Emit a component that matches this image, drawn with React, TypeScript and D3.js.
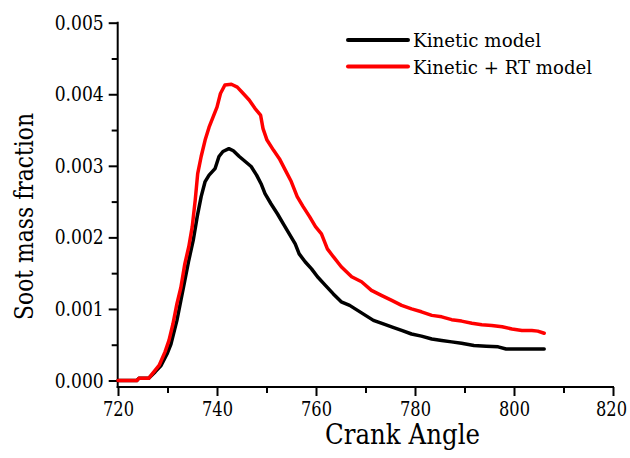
import React, { useRef, useEffect } from "react";
import * as d3 from "d3";

// Kinetic model (black)
const kineticAngle = [
  720, 723.8, 724.2, 726.2, 727.5, 728.7, 729.9, 730.7, 731.9, 732.7, 733.5,
  734.3, 735.2, 736, 736.8, 737.6, 738.4, 739.6, 740.4, 741.2, 742.4, 743.3,
  744.5, 745.7, 746.9, 748, 748.9, 749.7, 750.9, 752.2, 753.4, 754.6, 755.8,
  756.6, 757.8, 759.1, 760.3, 761.9, 763.5, 765.1, 766.8, 768.4, 770, 771.6,
  773.6, 775.7, 777.3, 779.3, 781.3, 783.4, 785.4, 787.4, 789.4, 791.9,
  794.4, 796.8, 798.4, 801.6, 806.1,
];
const kineticSoot = [
  0, 0, 0.00003, 0.00003, 0.00012, 0.00021, 0.00037, 0.00051, 0.00084,
  0.00112, 0.0014, 0.00168, 0.00196, 0.00229, 0.00257, 0.00278, 0.00287,
  0.00296, 0.00313, 0.0032, 0.00324, 0.00321, 0.00313, 0.00306, 0.00299,
  0.00287, 0.00275, 0.00261, 0.00247, 0.00233, 0.00219, 0.00205, 0.00191,
  0.00177, 0.00166, 0.00156, 0.00145, 0.00133, 0.00121, 0.0011, 0.00105,
  0.00098, 0.00091, 0.00084, 0.00079, 0.00074, 0.0007, 0.00065, 0.00062,
  0.00058, 0.00056, 0.00054, 0.00052, 0.00049, 0.00048, 0.00047, 0.00044,
  0.00044, 0.00044,
];

// Kinetic + RT model (red)
const rtAngle = [
  720, 723.8, 724.2, 726.2, 727, 728.3, 729.5, 730.3, 731.1, 731.9, 732.7,
  733.5, 734.3, 735, 735.6, 736.1, 736.8, 737.6, 738.4, 739.2, 740, 740.7,
  741.6, 742.9, 744.1, 745.3, 746.5, 747.7, 748.8, 749.3, 750.1, 751.4,
  752.6, 753.8, 755, 756.2, 757.4, 758.7, 759.9, 761.1, 762.3, 763.5, 765.1,
  767.2, 769.2, 771.2, 773.2, 775.3, 777.3, 779.3, 781.3, 783.4, 785.4,
  787.4, 789.4, 791.5, 793.5, 795.5, 797.6, 799.6, 801.6, 803.6, 804.8,
  806.1,
];
const rtSoot = [
  0, 0, 0.00003, 0.00003, 0.0001, 0.00021, 0.0004, 0.00056, 0.00079, 0.00107,
  0.0013, 0.00163, 0.00187, 0.00215, 0.00252, 0.00289, 0.00313, 0.00336,
  0.00354, 0.00368, 0.00382, 0.00401, 0.00413, 0.00414, 0.0041, 0.00401,
  0.00392, 0.0038, 0.00371, 0.00352, 0.00336, 0.00322, 0.0031, 0.00294,
  0.00278, 0.00257, 0.00243, 0.00229, 0.00215, 0.00205, 0.00184, 0.00173,
  0.00159, 0.00145, 0.00138, 0.00126, 0.00119, 0.00112, 0.00105, 0.001,
  0.00096, 0.00091, 0.00089, 0.00085, 0.00083, 0.0008, 0.00078, 0.00077,
  0.00075, 0.00072, 0.0007, 0.0007, 0.00069, 0.00066,
];

const xMajor = [720, 740, 760, 780, 800, 820];
const xMinor = [730, 750, 770, 790, 810];
const yMajor = [0, 0.001, 0.002, 0.003, 0.004, 0.005];
const yMinor = [0.0005, 0.0015, 0.0025, 0.0035, 0.0045];

const seriesNames = ["Kinetic model", "Kinetic + RT model"];
const seriesColors = ["#000000", "#ff0000"];
const legendWidths = [128, 179];

// Liberation Serif did not resolve here; DejaVu Serif squeezed to Times widths
const FONT = "'DejaVu Serif'";

const App = () => {
  const svgRef = useRef(null);

  useEffect(() => {
    const svg = d3.select(svgRef.current);
    svg.selectAll("*").remove();

    const x = d3.scaleLinear().domain([720, 820]).range([118, 613]);
    const y = d3.scaleLinear().domain([0, 0.005]).range([380.5, 22.7]);
    const axisY = 387;
    const axisX = 117.7;

    const styleAxis = (width) => (g) => {
      g.attr("font-family", null);
      g.select(".domain").remove();
      g.selectAll("line").attr("stroke", "#000").attr("stroke-width", 2);
      g.selectAll("text")
        .attr("fill", "#000")
        .attr("textLength", width)
        .attr("lengthAdjust", "spacingAndGlyphs")
        .style("font-family", FONT)
        .style("font-size", "20.5px");
    };

    // x axis
    const xg = svg
      .append("g")
      .attr("transform", `translate(0,${axisY})`)
      .call(
        d3
          .axisBottom(x)
          .tickValues(xMajor)
          .tickSize(9)
          .tickSizeOuter(0)
          .tickPadding(5)
          .tickFormat(d3.format("d"))
      )
      .call(styleAxis(31));
    // last label sits on the page edge, keep it inside
    xg.selectAll("text")
      .filter((d) => d === 820)
      .attr("x", -2);
    svg
      .append("g")
      .attr("transform", `translate(0,${axisY})`)
      .call(d3.axisBottom(x).tickValues(xMinor).tickSize(6).tickFormat(() => ""))
      .call(styleAxis(0));

    // y axis
    svg
      .append("g")
      .attr("transform", `translate(${axisX},0)`)
      .call(
        d3
          .axisLeft(y)
          .tickValues(yMajor)
          .tickSize(9)
          .tickSizeOuter(0)
          .tickPadding(5)
          .tickFormat(d3.format(".3f"))
      )
      .call(styleAxis(49));
    svg
      .append("g")
      .attr("transform", `translate(${axisX},0)`)
      .call(d3.axisLeft(y).tickValues(yMinor).tickSize(6).tickFormat(() => ""))
      .call(styleAxis(0));

    // axis lines
    svg
      .append("line")
      .attr("x1", axisX)
      .attr("x2", axisX)
      .attr("y1", y(0.005) - 1)
      .attr("y2", axisY + 1)
      .attr("stroke", "#000")
      .attr("stroke-width", 2);
    svg
      .append("line")
      .attr("x1", axisX - 1)
      .attr("x2", x(820) + 1)
      .attr("y1", axisY)
      .attr("y2", axisY)
      .attr("stroke", "#000")
      .attr("stroke-width", 2);

    // curves
    const line = d3
      .line()
      .x((d) => x(d[0]))
      .y((d) => y(d[1]));

    const series = [
      d3.zip(kineticAngle, kineticSoot),
      d3.zip(rtAngle, rtSoot),
    ];
    series.forEach((pts, i) => {
      svg
        .append("path")
        .datum(pts)
        .attr("fill", "none")
        .attr("stroke", seriesColors[i])
        .attr("stroke-width", 3.5)
        .attr("stroke-linejoin", "round")
        .attr("stroke-linecap", "round")
        .attr("d", line);
    });

    // legend
    const legend = svg.append("g");
    seriesNames.forEach((name, i) => {
      const ly = 40 + i * 26.5;
      legend
        .append("line")
        .attr("x1", 348)
        .attr("x2", 408)
        .attr("y1", ly)
        .attr("y2", ly)
        .attr("stroke", seriesColors[i])
        .attr("stroke-width", 4)
        .attr("stroke-linecap", "round");
      legend
        .append("text")
        .attr("x", 413)
        .attr("y", ly + 7)
        .attr("textLength", legendWidths[i])
        .attr("lengthAdjust", "spacingAndGlyphs")
        .style("font-family", FONT)
        .style("font-size", "19px")
        .attr("fill", "#000")
        .text(name);
    });

    // axis titles
    svg
      .append("text")
      .attr("x", 402.5)
      .attr("y", 444)
      .attr("text-anchor", "middle")
      .attr("textLength", 155)
      .attr("lengthAdjust", "spacingAndGlyphs")
      .style("font-family", FONT)
      .style("font-size", "27px")
      .attr("fill", "#000")
      .text("Crank Angle");
    svg
      .append("text")
      .attr("transform", "translate(33,216.5) rotate(-90)")
      .attr("text-anchor", "middle")
      .attr("textLength", 207)
      .attr("lengthAdjust", "spacingAndGlyphs")
      .style("font-family", FONT)
      .style("font-size", "25.5px")
      .attr("fill", "#000")
      .text("Soot mass fraction");
  }, []);

  return (
    <svg
      ref={svgRef}
      width={630}
      height={458}
      style={{
        position: "absolute",
        left: 0,
        top: 0,
        background: "#fff",
      }}
    />
  );
};

export default App;
